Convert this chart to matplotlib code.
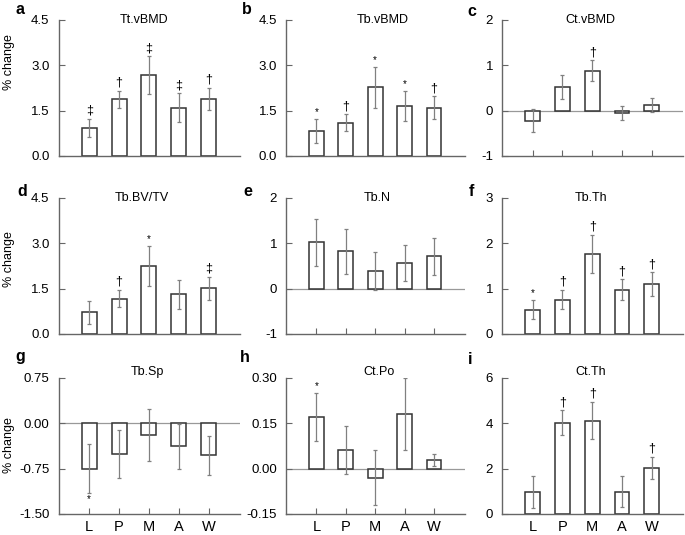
import matplotlib
matplotlib.use("Agg")
import matplotlib.pyplot as plt
import numpy as np

plt.rcParams['font.family'] = ['Liberation Sans', 'DejaVu Sans']

groups = ["L", "P", "M", "A", "W"]

titles = ["Tt.vBMD", "Tb.vBMD", "Ct.vBMD", "Tb.BV/TV", "Tb.N", "Tb.Th", "Tb.Sp", "Ct.Po", "Ct.Th"]
letters = ["a", "b", "c", "d", "e", "f", "g", "h", "i"]

means = [
    [0.93, 1.88, 2.67, 1.60, 1.88],
    [0.82, 1.10, 2.27, 1.65, 1.59],
    [-0.22, 0.52, 0.88, -0.05, 0.13],
    [0.72, 1.17, 2.25, 1.32, 1.51],
    [1.02, 0.82, 0.38, 0.56, 0.71],
    [0.54, 0.76, 1.77, 0.98, 1.10],
    [-0.75, -0.51, -0.19, -0.38, -0.53],
    [0.171, 0.061, -0.030, 0.181, 0.028],
    [0.96, 4.03, 4.12, 0.99, 2.04],
]
errors = [
    [0.31, 0.28, 0.63, 0.47, 0.37],
    [0.39, 0.28, 0.67, 0.49, 0.38],
    [0.26, 0.27, 0.23, 0.16, 0.16],
    [0.38, 0.29, 0.67, 0.48, 0.38],
    [0.51, 0.50, 0.42, 0.40, 0.40],
    [0.21, 0.21, 0.42, 0.23, 0.26],
    [0.40, 0.40, 0.43, 0.37, 0.32],
    [0.080, 0.080, 0.091, 0.120, 0.020],
    [0.70, 0.55, 0.82, 0.70, 0.49],
]
marks = [
    ["‡", "†", "‡", "‡", "†"],
    ["*", "†", "*", "*", "†"],
    ["", "", "†", "", ""],
    ["", "†", "*", "", "‡"],
    ["", "", "", "", ""],
    ["*", "†", "†", "†", "†"],
    ["*", "", "", "", ""],
    ["*", "", "", "", ""],
    ["", "†", "†", "", "†"],
]
yticks = [
    [0.0, 1.5, 3.0, 4.5],
    [0.0, 1.5, 3.0, 4.5],
    [-1, 0, 1, 2],
    [0.0, 1.5, 3.0, 4.5],
    [-1, 0, 1, 2],
    [0, 1, 2, 3],
    [-1.50, -0.75, 0.00, 0.75],
    [-0.15, 0.00, 0.15, 0.30],
    [0, 2, 4, 6],
]
ytick_labels = [
    ["0.0", "1.5", "3.0", "4.5"],
    ["0.0", "1.5", "3.0", "4.5"],
    ["-1", "0", "1", "2"],
    ["0.0", "1.5", "3.0", "4.5"],
    ["-1", "0", "1", "2"],
    ["0", "1", "2", "3"],
    ["-1.50", "-0.75", "0.00", "0.75"],
    ["-0.15", "0.00", "0.15", "0.30"],
    ["0", "2", "4", "6"],
]

W, H = 685, 535
fig = plt.figure(figsize=(W / 100, H / 100), dpi=100)

col_lr = [(58.5, 240), (286, 465), (502, 683)]
row_tb = [(20, 156), (198, 334), (378, 514)]
letter_xy = [(16, 9), (242, 9), (467, 11),
             (17, 191), (243, 191), (469, 191),
             (15, 357), (240, 357), (468, 360)]
title_x = [0.47, 0.54, 0.49, 0.46, 0.51, 0.49, 0.49, 0.52, 0.49]
title_y = [20, 20, 20, 198, 198, 198, 372, 372, 372]
ylabel_y = [62, 259, 445]

spine_c = "#666666"
bar_c = "#333333"
err_c = "#808080"

for k in range(9):
    r, c = divmod(k, 3)
    l, rr = col_lr[c]
    t, b = row_tb[r]
    ax = fig.add_axes([l / W, 1 - b / H, (rr - l) / W, (b - t) / H])
    x = np.arange(len(groups))
    ax.bar(x, means[k], width=0.5, color="white", edgecolor=bar_c, linewidth=1.1, zorder=2)
    ax.errorbar(x, means[k], yerr=errors[k], fmt="none", ecolor=err_c, elinewidth=0.9,
                capsize=1.5, capthick=0.9, zorder=3)
    lo, hi = yticks[k][0], yticks[k][-1]
    ax.set_ylim(lo, hi)
    ax.set_xlim(-1.03, 5.05)
    if lo < 0:
        ax.axhline(0, color="#999999", linewidth=0.9, zorder=1)
    ax.set_yticks(yticks[k])
    ax.set_yticklabels(ytick_labels[k])
    ax.set_xticks(x)
    if r == 2:
        ax.set_xticklabels(groups)
    else:
        ax.set_xticklabels([])
    ax.tick_params(axis="both", direction="in", length=4, width=0.8, color=spine_c,
                   labelcolor="black")
    ax.tick_params(axis="x", pad=4, labelsize=10.5)
    ax.tick_params(axis="y", pad=6.5, labelsize=9.5)
    for s in ["top", "right"]:
        ax.spines[s].set_visible(False)
    for s in ["left", "bottom"]:
        ax.spines[s].set_color(spine_c)
        ax.spines[s].set_linewidth(1.0)
    fig.text((l + title_x[k] * (rr - l)) / W, 1 - title_y[k] / H, titles[k],
             ha="center", va="center", fontsize=9)
    for i, m in enumerate(marks[k]):
        if not m:
            continue
        v = means[k][i]
        e = errors[k][i]
        fs = 7 if m == "*" else 9
        if v >= 0:
            ax.annotate(m, (x[i], v + e), xytext=(0, 1.5), textcoords="offset points",
                        ha="center", va="bottom", fontsize=fs)
        else:
            ax.annotate(m, (x[i], v - e), xytext=(0, -1), textcoords="offset points",
                        ha="center", va="top", fontsize=fs)
    if c == 0:
        fig.text(9 / W, 1 - ylabel_y[r] / H, "% change", rotation=90,
                 ha="center", va="center", fontsize=9)
    lx, ly = letter_xy[k]
    fig.text(lx / W, 1 - ly / H, letters[k], ha="left", va="center", fontsize=11.5, fontweight="bold")

fig.savefig("out.png", dpi=100)
